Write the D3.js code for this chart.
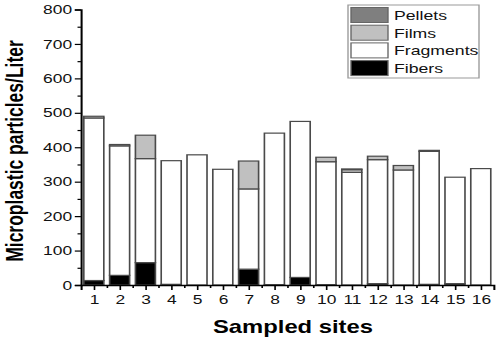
<!DOCTYPE html>
<html>
<head>
  <script src="https://d3js.org/d3.v7.min.js"></script>
  <style>
    body { margin: 0; background: #fff; }
    svg { font-family: "Liberation Sans", Arial, sans-serif; }
  </style>
</head>
<body>
  <svg width="498" height="343"></svg>
  <script>
    const sites = ["1","2","3","4","5","6","7","8","9","10","11","12","13","14","15","16"];
    const fibers    = [13, 28, 65, 2, 0, 0, 46, 1, 22, 1, 0, 4, 0, 2, 4, 0];
    const fragments = [472, 376, 302, 359, 378, 336, 233, 440, 453, 357, 327, 360, 334, 386, 309, 338];
    const films     = [5, 4, 68, 0, 0, 0, 81, 0, 0, 13, 8, 10, 13, 3, 0, 0];
    const pellets   = [0, 0, 0, 0, 0, 0, 0, 0, 0, 0, 2, 0, 0, 0, 0, 0];
    const yTicks = [0, 100, 200, 300, 400, 500, 600, 700, 800];

    const keys = ["Fibers", "Fragments", "Films", "Pellets"];
    const colors = { Pellets: "#7f7f7f", Films: "#c0c0c0", Fragments: "#ffffff", Fibers: "#000000" };

    const table = sites.map((s, i) => ({
      site: +s, Fibers: fibers[i], Fragments: fragments[i], Films: films[i], Pellets: pellets[i]
    }));

    // the source image is stretched horizontally, so draw in a squeezed frame
    const sx = 1.36;
    const svg = d3.select("svg");
    const g = svg.append("g").attr("transform", `scale(${sx},1)`);

    const x = d3.scaleLinear().domain([0.5, 16.5]).range([59.5, 363]);
    const y = d3.scaleLinear().domain([0, 800]).range([285, 9.5]);
    const step = x(2) - x(1);
    const bw = step * 0.775;

    const stack = d3.stack().keys(keys)(table);

    g.append("g").selectAll("g")
      .data(stack)
      .join("g")
      .attr("fill", d => colors[d.key])
      .selectAll("rect")
      .data(d => d.filter(p => p[1] - p[0] > 0))
      .join("rect")
      .attr("x", d => x(d.data.site) - bw / 2)
      .attr("width", bw)
      .attr("y", d => y(d[1]))
      .attr("height", d => y(d[0]) - y(d[1]))
      .attr("stroke", "#4a4a4a")
      .attr("stroke-width", 1.2);

    // axes
    const yAxis = g.append("g")
      .attr("transform", `translate(${x(0.5)},0)`)
      .call(d3.axisLeft(y).tickValues(yTicks).tickSize(4.5).tickPadding(2));
    g.append("g")
      .attr("transform", `translate(${x(0.5)},0)`)
      .call(d3.axisLeft(y).tickValues(d3.range(50, 800, 100)).tickSize(2.5).tickFormat(""))
      .select(".domain").remove();

    const xAxis = g.append("g")
      .attr("transform", `translate(0,${y(0)})`)
      .call(d3.axisBottom(x).tickValues(sites.map(Number)).tickFormat(d => d).tickSize(5).tickPadding(5));
    g.append("g")
      .attr("transform", `translate(0,${y(0)})`)
      .call(d3.axisBottom(x).tickValues(d3.range(1.5, 16, 1)).tickSize(3).tickFormat(""))
      .select(".domain").remove();

    g.selectAll(".domain").attr("stroke", "#000").attr("stroke-width", 1.5);
    g.selectAll(".tick line").attr("stroke", "#000").attr("stroke-width", 1.2);
    yAxis.selectAll("text").attr("font-size", 12.8).attr("fill", "#111");
    xAxis.selectAll("text").attr("font-size", 12.8).attr("fill", "#111");

    // axis titles
    g.append("text")
      .attr("x", 293 / sx)
      .attr("y", 333)
      .attr("text-anchor", "middle")
      .attr("font-size", 17.5)
      .attr("font-weight", "bold")
      .text("Sampled sites");

    g.append("text")
      .attr("transform", `translate(${23 / sx},151) rotate(-90)`)
      .attr("text-anchor", "middle")
      .attr("font-size", 17.5)
      .attr("font-weight", "bold")
      .text("Microplastic particles/Liter");

    // legend
    const legendKeys = ["Pellets", "Films", "Fragments", "Fibers"];
    const lg = g.append("g");
    lg.append("rect")
      .attr("x", 348 / sx).attr("y", 5)
      .attr("width", 131 / sx).attr("height", 73)
      .attr("fill", "#fff").attr("stroke", "#999").attr("stroke-width", 1);
    const row = lg.selectAll("g.row")
      .data(legendKeys)
      .join("g")
      .attr("class", "row")
      .attr("transform", (d, i) => `translate(0,${7.5 + i * 17.7})`);
    row.append("rect")
      .attr("x", 351 / sx).attr("width", 37 / sx).attr("height", 15)
      .attr("fill", d => colors[d]).attr("stroke", "#666").attr("stroke-width", 1);
    row.append("text")
      .attr("x", 394 / sx).attr("y", 12.5)
      .attr("font-size", 13)
      .attr("fill", "#111")
      .text(d => d);
  </script>
</body>
</html>
